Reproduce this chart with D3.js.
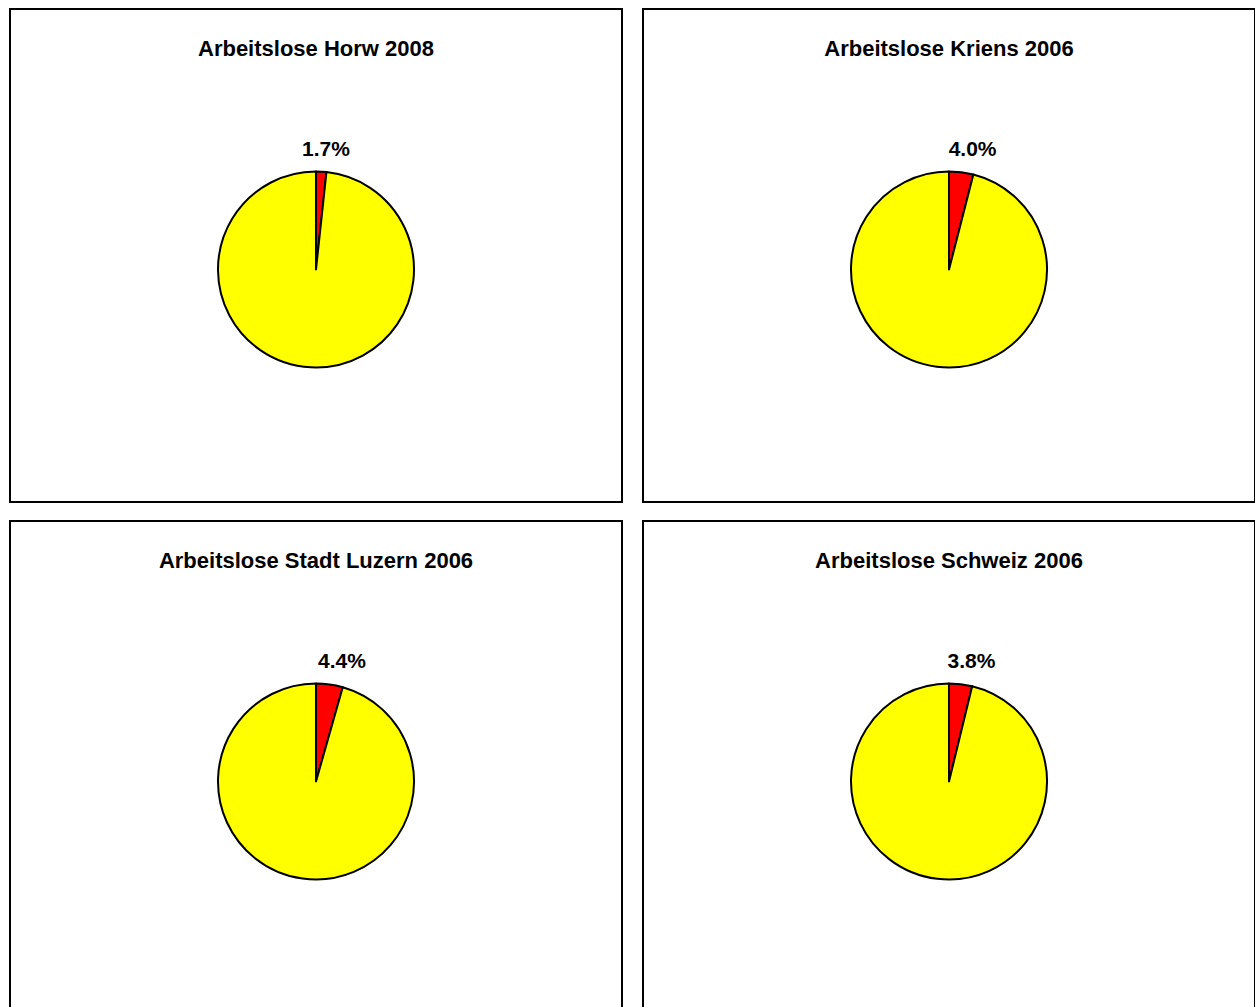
<!DOCTYPE html>
<html>
<head>
<meta charset="utf-8">
<script src="https://cdn.jsdelivr.net/npm/d3@7"></script>
<style>
  body { margin: 0; background: #fff; }
  text { font-family: "Liberation Sans", Arial, sans-serif; font-weight: bold; fill: #000; }
</style>
</head>
<body>
<div class="svg-container"></div>
<script>
var width = 1255;
var height = 1007;

// chart data
var titles = ["Arbeitslose Horw 2008", "Arbeitslose Kriens 2006",
              "Arbeitslose Stadt Luzern 2006", "Arbeitslose Schweiz 2006"];
var unemployed = [1.7, 4.0, 4.4, 3.8];   // percent, red slice
var sliceColors = ["#ff0000", "#ffff00"];

var panel = { "w": 612, "h": 493, "x0": 10, "y0": 9, "dx": 633, "dy": 512 };
var radius = 98;

var svg = d3.select(".svg-container").append("svg")
            .attr("width", width)
            .attr("height", height);

var pie = d3.pie().sort(null).value(function(d) { return d; });
var arc = d3.arc().innerRadius(0).outerRadius(radius);
var fmt = d3.format(".1f");

titles.forEach(function(title, i) {
  var px = panel.x0 + (i % 2) * panel.dx;
  var py = panel.y0 + Math.floor(i / 2) * panel.dy;

  var g = svg.append("g")
             .attr("transform", "translate(" + px + "," + py + ")");

  g.append("rect")
    .attr("width", panel.w)
    .attr("height", panel.h)
    .attr("fill", "#fff")
    .attr("stroke", "#000")
    .attr("stroke-width", 2);

  g.append("text")
    .attr("x", panel.w / 2)
    .attr("y", 47)
    .attr("text-anchor", "middle")
    .style("font-size", "22px")
    .text(title);

  var cx = 306, cy = 260.5;
  var pg = g.append("g").attr("transform", "translate(" + cx + "," + cy + ")");

  var arcs = pie([unemployed[i], 100 - unemployed[i]]);

  pg.selectAll("path")
    .data(arcs)
    .enter()
    .append("path")
      .attr("d", arc)
      .attr("fill", function(d, j) { return sliceColors[j]; })
      .attr("stroke", "#000")
      .attr("stroke-width", 2)
      .attr("stroke-linejoin", "round");

  // percent label above the red slice
  var mid = (arcs[0].startAngle + arcs[0].endAngle) / 2;
  pg.append("text")
    .attr("x", 188 * Math.sin(mid))
    .attr("y", -114)
    .attr("text-anchor", "middle")
    .style("font-size", "21px")
    .text(fmt(unemployed[i]) + "%");
});
</script>
</body>
</html>
